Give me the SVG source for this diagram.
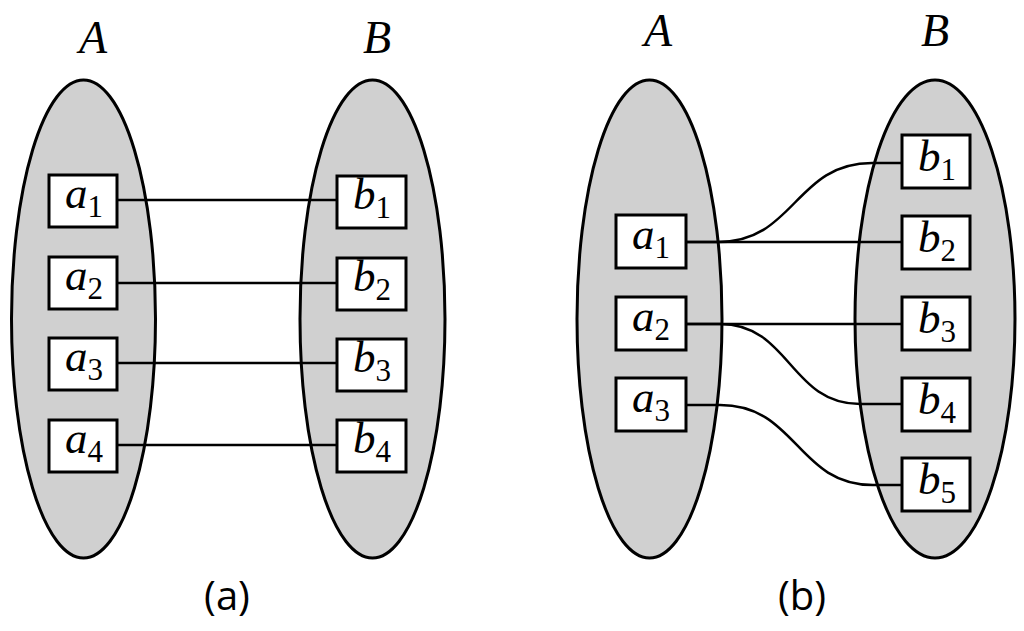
<svg xmlns="http://www.w3.org/2000/svg" width="1024" height="631" viewBox="0 0 1024 631">
<style>
.set{fill:#d0d0d0;stroke:#000;stroke-width:3}
.box{fill:#fff;stroke:#000;stroke-width:3}
.edge{fill:none;stroke:#000;stroke-width:2.5}
.lbl{font-family:"Liberation Serif",serif;font-size:45px;fill:#000}
.it{font-style:italic}
.sub{font-size:31px;font-style:normal}
.title{font-family:"Liberation Serif",serif;font-style:italic;font-size:46px;fill:#000;text-anchor:middle}
.cap{font-family:"Open Sans",sans-serif;font-size:40px;fill:#000;text-anchor:middle}
</style>
<rect width="1024" height="631" fill="#fff"/>
<g id="setA_a"><ellipse class="set" cx="83.5" cy="319" rx="72" ry="239"/><text class="title" x="93" y="53">A</text></g>
<g id="setB_a"><ellipse class="set" cx="372.5" cy="319" rx="72.5" ry="239"/><text class="title" x="377" y="53">B</text></g>
<g id="setA_b"><ellipse class="set" cx="649.5" cy="319" rx="72.5" ry="239"/><text class="title" x="658" y="46">A</text></g>
<g id="setB_b"><ellipse class="set" cx="935" cy="319" rx="80" ry="239"/><text class="title" x="935" y="46">B</text></g>
<g id="connectors">
<path class="edge" d="M117 200H337"/>
<path class="edge" d="M117 283H337"/>
<path class="edge" d="M117 363H337"/>
<path class="edge" d="M117 445H337"/>
<path class="edge" d="M686 242H902"/>
<path class="edge" d="M686 242H718C795 242 795 163 872 163H902"/>
<path class="edge" d="M686 324H902"/>
<path class="edge" d="M686 324H720C790 324 790 404 860 404H902"/>
<path class="edge" d="M686 405H720C797 405 797 485 873 485H902"/>
</g>
<g id="a_a1"><rect class="box" x="49" y="175" width="68" height="52"/><text class="lbl" x="84" y="208" text-anchor="middle"><tspan class="it">a</tspan><tspan class="sub" dy="9">1</tspan></text></g>
<g id="a_a2"><rect class="box" x="49" y="257" width="68" height="52"/><text class="lbl" x="84" y="290" text-anchor="middle"><tspan class="it">a</tspan><tspan class="sub" dy="9">2</tspan></text></g>
<g id="a_a3"><rect class="box" x="49" y="338" width="68" height="52"/><text class="lbl" x="84" y="371" text-anchor="middle"><tspan class="it">a</tspan><tspan class="sub" dy="9">3</tspan></text></g>
<g id="a_a4"><rect class="box" x="49" y="420" width="68" height="52"/><text class="lbl" x="84" y="453" text-anchor="middle"><tspan class="it">a</tspan><tspan class="sub" dy="9">4</tspan></text></g>
<g id="a_b1"><rect class="box" x="337" y="176" width="69" height="52"/><text class="lbl" x="372" y="209" text-anchor="middle"><tspan class="it">b</tspan><tspan class="sub" dy="9">1</tspan></text></g>
<g id="a_b2"><rect class="box" x="337" y="258" width="69" height="52"/><text class="lbl" x="372" y="291" text-anchor="middle"><tspan class="it">b</tspan><tspan class="sub" dy="9">2</tspan></text></g>
<g id="a_b3"><rect class="box" x="337" y="339" width="69" height="52"/><text class="lbl" x="372" y="372" text-anchor="middle"><tspan class="it">b</tspan><tspan class="sub" dy="9">3</tspan></text></g>
<g id="a_b4"><rect class="box" x="337" y="420" width="69" height="52"/><text class="lbl" x="372" y="453" text-anchor="middle"><tspan class="it">b</tspan><tspan class="sub" dy="9">4</tspan></text></g>
<g id="b_a1"><rect class="box" x="616" y="215" width="70" height="53"/><text class="lbl" x="651" y="249" text-anchor="middle"><tspan class="it">a</tspan><tspan class="sub" dy="9">1</tspan></text></g>
<g id="b_a2"><rect class="box" x="616" y="297" width="70" height="53"/><text class="lbl" x="651" y="331" text-anchor="middle"><tspan class="it">a</tspan><tspan class="sub" dy="9">2</tspan></text></g>
<g id="b_a3"><rect class="box" x="616" y="378" width="70" height="53"/><text class="lbl" x="651" y="412" text-anchor="middle"><tspan class="it">a</tspan><tspan class="sub" dy="9">3</tspan></text></g>
<g id="b_b1"><rect class="box" x="902" y="135" width="68" height="53"/><text class="lbl" x="937" y="171" text-anchor="middle"><tspan class="it">b</tspan><tspan class="sub" dy="9">1</tspan></text></g>
<g id="b_b2"><rect class="box" x="902" y="216" width="68" height="53"/><text class="lbl" x="937" y="252" text-anchor="middle"><tspan class="it">b</tspan><tspan class="sub" dy="9">2</tspan></text></g>
<g id="b_b3"><rect class="box" x="902" y="297" width="68" height="53"/><text class="lbl" x="937" y="333" text-anchor="middle"><tspan class="it">b</tspan><tspan class="sub" dy="9">3</tspan></text></g>
<g id="b_b4"><rect class="box" x="902" y="378" width="68" height="53"/><text class="lbl" x="937" y="414" text-anchor="middle"><tspan class="it">b</tspan><tspan class="sub" dy="9">4</tspan></text></g>
<g id="b_b5"><rect class="box" x="902" y="458" width="68" height="53"/><text class="lbl" x="937" y="494" text-anchor="middle"><tspan class="it">b</tspan><tspan class="sub" dy="9">5</tspan></text></g>
<g id="captions"><text class="cap" x="227" y="610">(a)</text><text class="cap" x="802" y="610">(b)</text></g>
</svg>
